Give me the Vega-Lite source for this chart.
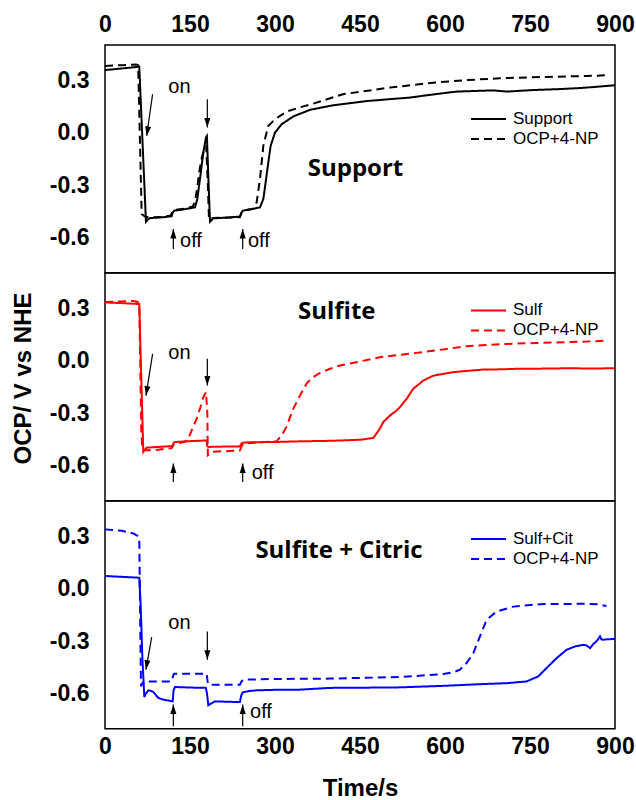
{
"$schema":"https://vega.github.io/schema/vega-lite/v6.json",
"padding":{"left":10,"top":12,"right":15,"bottom":0},
"background":"white",
"config":{"view":{"stroke":"black","strokeWidth":1.5},
"axis":{"labelFont":"Liberation Sans","labelFontWeight":"bold","labelFontSize":23,"labelColor":"black","titleFont":"Liberation Sans","titleFontWeight":"bold","titleFontSize":24,"titleColor":"black","tickColor":"black","tickWidth":1.3,"domain":false,"grid":false,"tickSize":0,"labelFlush":false,"labelOverlap":false},
"legend":{"labelFont":"Liberation Sans","labelFontSize":17,"labelColor":"black"}},
"datasets":{
"d1":[{"t":0,"v":0.357,"s":"Support"},{"t":30,"v":0.366,"s":"Support"},{"t":60.5,"v":0.376,"s":"Support"},{"t":72.3,"v":-0.51,"s":"Support"},{"t":76,"v":-0.495,"s":"Support"},{"t":80,"v":-0.488,"s":"Support"},{"t":100,"v":-0.484,"s":"Support"},{"t":117.5,"v":-0.478,"s":"Support"},{"t":119.5,"v":-0.458,"s":"Support"},{"t":122,"v":-0.446,"s":"Support"},{"t":140,"v":-0.438,"s":"Support"},{"t":158.8,"v":-0.427,"s":"Support"},{"t":162.9,"v":-0.379,"s":"Support"},{"t":167.6,"v":-0.265,"s":"Support"},{"t":173.5,"v":-0.113,"s":"Support"},{"t":178.2,"v":-0.028,"s":"Support"},{"t":179.8,"v":-0.02,"s":"Support"},{"t":185.3,"v":-0.509,"s":"Support"},{"t":191,"v":-0.49,"s":"Support"},{"t":215,"v":-0.485,"s":"Support"},{"t":238.2,"v":-0.48,"s":"Support"},{"t":240.5,"v":-0.46,"s":"Support"},{"t":243,"v":-0.446,"s":"Support"},{"t":260,"v":-0.436,"s":"Support"},{"t":273.5,"v":-0.427,"s":"Support"},{"t":279.4,"v":-0.379,"s":"Support"},{"t":283.5,"v":-0.284,"s":"Support"},{"t":288.2,"v":-0.17,"s":"Support"},{"t":292.3,"v":-0.076,"s":"Support"},{"t":300,"v":0.0,"s":"Support"},{"t":311.8,"v":0.048,"s":"Support"},{"t":332.3,"v":0.092,"s":"Support"},{"t":361.7,"v":0.13,"s":"Support"},{"t":403,"v":0.156,"s":"Support"},{"t":461.8,"v":0.18,"s":"Support"},{"t":500,"v":0.19,"s":"Support"},{"t":538,"v":0.2,"s":"Support"},{"t":580,"v":0.218,"s":"Support"},{"t":620.6,"v":0.234,"s":"Support"},{"t":685,"v":0.241,"s":"Support"},{"t":708.8,"v":0.234,"s":"Support"},{"t":756,"v":0.243,"s":"Support"},{"t":800,"v":0.248,"s":"Support"},{"t":838,"v":0.254,"s":"Support"},{"t":870,"v":0.262,"s":"Support"},{"t":900,"v":0.27,"s":"Support"},
{"t":0,"v":0.38,"s":"OCP+4-NP"},{"t":30,"v":0.385,"s":"OCP+4-NP"},{"t":55,"v":0.389,"s":"OCP+4-NP"},{"t":58.5,"v":0.385,"s":"OCP+4-NP"},{"t":64.7,"v":-0.465,"s":"OCP+4-NP"},{"t":70,"v":-0.478,"s":"OCP+4-NP"},{"t":78,"v":-0.485,"s":"OCP+4-NP"},{"t":100,"v":-0.482,"s":"OCP+4-NP"},{"t":116,"v":-0.474,"s":"OCP+4-NP"},{"t":119,"v":-0.452,"s":"OCP+4-NP"},{"t":122,"v":-0.442,"s":"OCP+4-NP"},{"t":140,"v":-0.434,"s":"OCP+4-NP"},{"t":155,"v":-0.422,"s":"OCP+4-NP"},{"t":159,"v":-0.39,"s":"OCP+4-NP"},{"t":163,"v":-0.31,"s":"OCP+4-NP"},{"t":167,"v":-0.21,"s":"OCP+4-NP"},{"t":171,"v":-0.14,"s":"OCP+4-NP"},{"t":175,"v":-0.1,"s":"OCP+4-NP"},{"t":178.5,"v":-0.075,"s":"OCP+4-NP"},{"t":181.5,"v":-0.3,"s":"OCP+4-NP"},{"t":183.5,"v":-0.495,"s":"OCP+4-NP"},{"t":190,"v":-0.488,"s":"OCP+4-NP"},{"t":238,"v":-0.483,"s":"OCP+4-NP"},{"t":241,"v":-0.455,"s":"OCP+4-NP"},{"t":244,"v":-0.446,"s":"OCP+4-NP"},{"t":262,"v":-0.435,"s":"OCP+4-NP"},{"t":267.6,"v":-0.398,"s":"OCP+4-NP"},{"t":273.5,"v":-0.265,"s":"OCP+4-NP"},{"t":279.4,"v":-0.076,"s":"OCP+4-NP"},{"t":288,"v":0.038,"s":"OCP+4-NP"},{"t":300,"v":0.076,"s":"OCP+4-NP"},{"t":320.6,"v":0.12,"s":"OCP+4-NP"},{"t":345,"v":0.145,"s":"OCP+4-NP"},{"t":362,"v":0.16,"s":"OCP+4-NP"},{"t":420,"v":0.219,"s":"OCP+4-NP"},{"t":503,"v":0.257,"s":"OCP+4-NP"},{"t":579,"v":0.285,"s":"OCP+4-NP"},{"t":640,"v":0.3,"s":"OCP+4-NP"},{"t":697,"v":0.31,"s":"OCP+4-NP"},{"t":780,"v":0.318,"s":"OCP+4-NP"},{"t":850,"v":0.323,"s":"OCP+4-NP"},{"t":885,"v":0.327,"s":"OCP+4-NP"}],
"d2":[{"t":0,"v":0.332,"s":"Sulf"},{"t":30,"v":0.328,"s":"Sulf"},{"t":60.5,"v":0.323,"s":"Sulf"},{"t":67.6,"v":-0.522,"s":"Sulf"},{"t":73.5,"v":-0.497,"s":"Sulf"},{"t":100,"v":-0.492,"s":"Sulf"},{"t":119.4,"v":-0.488,"s":"Sulf"},{"t":121,"v":-0.47,"s":"Sulf"},{"t":123.5,"v":-0.465,"s":"Sulf"},{"t":150,"v":-0.46,"s":"Sulf"},{"t":179.4,"v":-0.456,"s":"Sulf"},{"t":180.6,"v":-0.49,"s":"Sulf"},{"t":183,"v":-0.493,"s":"Sulf"},{"t":210,"v":-0.491,"s":"Sulf"},{"t":238,"v":-0.49,"s":"Sulf"},{"t":240.5,"v":-0.475,"s":"Sulf"},{"t":243,"v":-0.469,"s":"Sulf"},{"t":260,"v":-0.466,"s":"Sulf"},{"t":300,"v":-0.465,"s":"Sulf"},{"t":344,"v":-0.461,"s":"Sulf"},{"t":400,"v":-0.458,"s":"Sulf"},{"t":450,"v":-0.452,"s":"Sulf"},{"t":473.5,"v":-0.442,"s":"Sulf"},{"t":485,"v":-0.389,"s":"Sulf"},{"t":491,"v":-0.351,"s":"Sulf"},{"t":503,"v":-0.313,"s":"Sulf"},{"t":514.7,"v":-0.285,"s":"Sulf"},{"t":520.6,"v":-0.265,"s":"Sulf"},{"t":532.4,"v":-0.218,"s":"Sulf"},{"t":544,"v":-0.161,"s":"Sulf"},{"t":561.7,"v":-0.114,"s":"Sulf"},{"t":579.4,"v":-0.086,"s":"Sulf"},{"t":614.6,"v":-0.066,"s":"Sulf"},{"t":667.6,"v":-0.051,"s":"Sulf"},{"t":700,"v":-0.05,"s":"Sulf"},{"t":726.5,"v":-0.047,"s":"Sulf"},{"t":770,"v":-0.046,"s":"Sulf"},{"t":814.7,"v":-0.044,"s":"Sulf"},{"t":860,"v":-0.045,"s":"Sulf"},{"t":900,"v":-0.044,"s":"Sulf"},
{"t":0,"v":0.335,"s":"OCP+4-NP"},{"t":30,"v":0.338,"s":"OCP+4-NP"},{"t":50,"v":0.34,"s":"OCP+4-NP"},{"t":58,"v":0.335,"s":"OCP+4-NP"},{"t":60.5,"v":0.32,"s":"OCP+4-NP"},{"t":64,"v":-0.4,"s":"OCP+4-NP"},{"t":66,"v":-0.512,"s":"OCP+4-NP"},{"t":85,"v":-0.512,"s":"OCP+4-NP"},{"t":117.6,"v":-0.5,"s":"OCP+4-NP"},{"t":121,"v":-0.48,"s":"OCP+4-NP"},{"t":125,"v":-0.475,"s":"OCP+4-NP"},{"t":140,"v":-0.465,"s":"OCP+4-NP"},{"t":147,"v":-0.446,"s":"OCP+4-NP"},{"t":154,"v":-0.39,"s":"OCP+4-NP"},{"t":161.8,"v":-0.332,"s":"OCP+4-NP"},{"t":168,"v":-0.27,"s":"OCP+4-NP"},{"t":173.5,"v":-0.209,"s":"OCP+4-NP"},{"t":178.2,"v":-0.18,"s":"OCP+4-NP"},{"t":180.6,"v":-0.3,"s":"OCP+4-NP"},{"t":181.5,"v":-0.541,"s":"OCP+4-NP"},{"t":191,"v":-0.52,"s":"OCP+4-NP"},{"t":238,"v":-0.514,"s":"OCP+4-NP"},{"t":241,"v":-0.49,"s":"OCP+4-NP"},{"t":244,"v":-0.474,"s":"OCP+4-NP"},{"t":270,"v":-0.468,"s":"OCP+4-NP"},{"t":303,"v":-0.46,"s":"OCP+4-NP"},{"t":311.8,"v":-0.427,"s":"OCP+4-NP"},{"t":320,"v":-0.38,"s":"OCP+4-NP"},{"t":332.3,"v":-0.275,"s":"OCP+4-NP"},{"t":344,"v":-0.2,"s":"OCP+4-NP"},{"t":356,"v":-0.13,"s":"OCP+4-NP"},{"t":367,"v":-0.095,"s":"OCP+4-NP"},{"t":379.4,"v":-0.071,"s":"OCP+4-NP"},{"t":397,"v":-0.047,"s":"OCP+4-NP"},{"t":414.7,"v":-0.028,"s":"OCP+4-NP"},{"t":450,"v":-0.005,"s":"OCP+4-NP"},{"t":485,"v":0.019,"s":"OCP+4-NP"},{"t":550,"v":0.044,"s":"OCP+4-NP"},{"t":600,"v":0.065,"s":"OCP+4-NP"},{"t":638,"v":0.082,"s":"OCP+4-NP"},{"t":709,"v":0.095,"s":"OCP+4-NP"},{"t":760,"v":0.1,"s":"OCP+4-NP"},{"t":814.7,"v":0.105,"s":"OCP+4-NP"},{"t":860,"v":0.11,"s":"OCP+4-NP"},{"t":885,"v":0.114,"s":"OCP+4-NP"}],
"d3":[{"t":0,"v":0.072,"s":"Sulf+Cit"},{"t":30,"v":0.067,"s":"Sulf+Cit"},{"t":60.5,"v":0.062,"s":"Sulf+Cit"},{"t":63,"v":-0.1,"s":"Sulf+Cit"},{"t":66,"v":-0.4,"s":"Sulf+Cit"},{"t":69.4,"v":-0.619,"s":"Sulf+Cit"},{"t":72,"v":-0.6,"s":"Sulf+Cit"},{"t":76.5,"v":-0.581,"s":"Sulf+Cit"},{"t":80,"v":-0.583,"s":"Sulf+Cit"},{"t":85,"v":-0.59,"s":"Sulf+Cit"},{"t":94,"v":-0.624,"s":"Sulf+Cit"},{"t":103,"v":-0.634,"s":"Sulf+Cit"},{"t":119.4,"v":-0.644,"s":"Sulf+Cit"},{"t":121,"v":-0.58,"s":"Sulf+Cit"},{"t":123.5,"v":-0.562,"s":"Sulf+Cit"},{"t":150,"v":-0.565,"s":"Sulf+Cit"},{"t":178,"v":-0.567,"s":"Sulf+Cit"},{"t":180,"v":-0.6,"s":"Sulf+Cit"},{"t":182.4,"v":-0.666,"s":"Sulf+Cit"},{"t":188,"v":-0.655,"s":"Sulf+Cit"},{"t":194,"v":-0.644,"s":"Sulf+Cit"},{"t":238,"v":-0.648,"s":"Sulf+Cit"},{"t":240.5,"v":-0.61,"s":"Sulf+Cit"},{"t":243,"v":-0.592,"s":"Sulf+Cit"},{"t":255,"v":-0.585,"s":"Sulf+Cit"},{"t":267.6,"v":-0.581,"s":"Sulf+Cit"},{"t":300,"v":-0.578,"s":"Sulf+Cit"},{"t":344,"v":-0.577,"s":"Sulf+Cit"},{"t":397,"v":-0.567,"s":"Sulf+Cit"},{"t":450,"v":-0.566,"s":"Sulf+Cit"},{"t":520.6,"v":-0.564,"s":"Sulf+Cit"},{"t":600,"v":-0.555,"s":"Sulf+Cit"},{"t":667.6,"v":-0.545,"s":"Sulf+Cit"},{"t":710,"v":-0.54,"s":"Sulf+Cit"},{"t":744,"v":-0.53,"s":"Sulf+Cit"},{"t":764.7,"v":-0.501,"s":"Sulf+Cit"},{"t":779.4,"v":-0.453,"s":"Sulf+Cit"},{"t":797,"v":-0.397,"s":"Sulf+Cit"},{"t":814.7,"v":-0.349,"s":"Sulf+Cit"},{"t":830,"v":-0.33,"s":"Sulf+Cit"},{"t":844,"v":-0.321,"s":"Sulf+Cit"},{"t":850,"v":-0.325,"s":"Sulf+Cit"},{"t":855.9,"v":-0.34,"s":"Sulf+Cit"},{"t":858.5,"v":-0.33,"s":"Sulf+Cit"},{"t":861.7,"v":-0.316,"s":"Sulf+Cit"},{"t":866,"v":-0.305,"s":"Sulf+Cit"},{"t":870,"v":-0.29,"s":"Sulf+Cit"},{"t":873.5,"v":-0.273,"s":"Sulf+Cit"},{"t":876,"v":-0.29,"s":"Sulf+Cit"},{"t":879.4,"v":-0.292,"s":"Sulf+Cit"},{"t":885,"v":-0.29,"s":"Sulf+Cit"},{"t":900,"v":-0.287,"s":"Sulf+Cit"},
{"t":0,"v":0.338,"s":"OCP+4-NP"},{"t":30,"v":0.33,"s":"OCP+4-NP"},{"t":50,"v":0.315,"s":"OCP+4-NP"},{"t":58,"v":0.3,"s":"OCP+4-NP"},{"t":60.5,"v":0.287,"s":"OCP+4-NP"},{"t":61.5,"v":0.0,"s":"OCP+4-NP"},{"t":62.5,"v":-0.3,"s":"OCP+4-NP"},{"t":63.5,"v":-0.558,"s":"OCP+4-NP"},{"t":66,"v":-0.54,"s":"OCP+4-NP"},{"t":70.6,"v":-0.53,"s":"OCP+4-NP"},{"t":117.6,"v":-0.53,"s":"OCP+4-NP"},{"t":120,"v":-0.5,"s":"OCP+4-NP"},{"t":121.8,"v":-0.486,"s":"OCP+4-NP"},{"t":179.4,"v":-0.486,"s":"OCP+4-NP"},{"t":181,"v":-0.53,"s":"OCP+4-NP"},{"t":182.4,"v":-0.549,"s":"OCP+4-NP"},{"t":238,"v":-0.549,"s":"OCP+4-NP"},{"t":241,"v":-0.53,"s":"OCP+4-NP"},{"t":244,"v":-0.52,"s":"OCP+4-NP"},{"t":300,"v":-0.516,"s":"OCP+4-NP"},{"t":397,"v":-0.514,"s":"OCP+4-NP"},{"t":450,"v":-0.51,"s":"OCP+4-NP"},{"t":520.6,"v":-0.505,"s":"OCP+4-NP"},{"t":597,"v":-0.488,"s":"OCP+4-NP"},{"t":615,"v":-0.478,"s":"OCP+4-NP"},{"t":626.5,"v":-0.463,"s":"OCP+4-NP"},{"t":638,"v":-0.425,"s":"OCP+4-NP"},{"t":650,"v":-0.368,"s":"OCP+4-NP"},{"t":661.7,"v":-0.273,"s":"OCP+4-NP"},{"t":673.5,"v":-0.178,"s":"OCP+4-NP"},{"t":691,"v":-0.131,"s":"OCP+4-NP"},{"t":720.6,"v":-0.103,"s":"OCP+4-NP"},{"t":767.6,"v":-0.089,"s":"OCP+4-NP"},{"t":844,"v":-0.087,"s":"OCP+4-NP"},{"t":870,"v":-0.09,"s":"OCP+4-NP"},{"t":885,"v":-0.099,"s":"OCP+4-NP"}],
"n1":[{"x":111.8,"y":0.228,"label":"on"},{"x":132.4,"y":-0.654,"label":"off"},{"x":252.3,"y":-0.654,"label":"off"}],
"n2":[{"x":111.8,"y":0.0096,"label":"on"},{"x":258.8,"y":-0.678,"label":"off"}],
"n3":[{"x":111.8,"y":-0.231,"label":"on"},{"x":255.9,"y":-0.738,"label":"off"}],
"r1":[{"x":84,"y":0.219,"x2":73.5,"y2":-0.019,"dir":"slant"},{"x":180.6,"y":0.19,"x2":180.6,"y2":0.029,"dir":"down"},{"x":120.6,"y":-0.664,"x2":120.6,"y2":-0.55,"dir":"up"},{"x":243,"y":-0.664,"x2":243,"y2":-0.55,"dir":"up"}],
"r2":[{"x":84,"y":0.038,"x2":72.3,"y2":-0.2,"dir":"slant"},{"x":180.6,"y":0.01,"x2":180.6,"y2":-0.142,"dir":"down"},{"x":120.6,"y":-0.693,"x2":120.6,"y2":-0.588,"dir":"up"},{"x":243,"y":-0.693,"x2":243,"y2":-0.588,"dir":"up"}],
"r3":[{"x":82.4,"y":-0.277,"x2":72.3,"y2":-0.463,"dir":"slant"},{"x":180.6,"y":-0.245,"x2":180.6,"y2":-0.406,"dir":"down"},{"x":120.6,"y":-0.786,"x2":120.6,"y2":-0.662,"dir":"up"},{"x":243,"y":-0.786,"x2":243,"y2":-0.662,"dir":"up"}],
"p1":[{"x":442,"y":-0.248,"label":"Support"}],
"p2":[{"x":409,"y":0.237,"label":"Sulfite"}],
"p3":[{"x":413,"y":0.173,"label":"Sulfite + Citric"}]
},
"vconcat":[
{"width":510,"height":227.7,
"resolve":{"axis":{"x":"independent","y":"independent"}},
"layer":[
{"data":{"name":"d1"},"mark":{"type":"line","strokeWidth":2},
"encoding":{
"x":{"field":"t","type":"quantitative","scale":{"domain":[0,900],"nice":false},"axis":{"orient":"bottom","values":[0,75,150,225,300,375,450,525,600,675,750,825,900],"labels":false,"title":null,"encode":{"ticks":{"y2":{"condition":{"test":"datum.value % 150 === 0","value":-7},"value":-4}}}}},
"y":{"field":"v","type":"quantitative","scale":{"domain":[-0.8,0.5],"nice":false,"zero":false},"axis":{"orient":"left","values":[-0.75,-0.6,-0.45,-0.3,-0.15,0,0.15,0.3,0.45],"labelExpr":"round(datum.value*100) % 30 === 0 ? replace(format(datum.value, '.1f'), '\u2212', '-') : ''","labelPadding":16,"title":null,"encode":{"ticks":{"x2":{"condition":{"test":"round(datum.value*100) % 30 === 0","value":-8},"value":-4}}}}},
"color":{"field":"s","type":"nominal","scale":{"domain":["Support","OCP+4-NP"],"range":["#000000","#000000"]},"legend":{"title":null,"orient":"none","legendX":365,"legendY":64,"symbolType":"stroke","symbolSize":1225,"symbolStrokeWidth":2,"labelOffset":6,"rowPadding":0,"clipHeight":20,"padding":0}},
"strokeDash":{"field":"s","type":"nominal","scale":{"domain":["Support","OCP+4-NP"],"range":[[1,0],[8,5]]},"legend":{"title":null,"orient":"none","legendX":365,"legendY":64,"symbolType":"stroke","symbolSize":1225,"symbolStrokeWidth":2,"labelOffset":6,"rowPadding":0,"clipHeight":20,"padding":0}}}},
{"data":{"name":"n1"},"mark":{"type":"text","font":"Liberation Sans","fontSize":20,"align":"left","baseline":"alphabetic","color":"black"},
"encoding":{
"x":{"field":"x","type":"quantitative","scale":{"domain":[0,900],"nice":false},"axis":{"orient":"top","values":[0,75,150,225,300,375,450,525,600,675,750,825,900],"labelExpr":"datum.value % 150 === 0 ? datum.label : ''","labelPadding":9,"title":null,"encode":{"ticks":{"y2":{"condition":{"test":"datum.value % 150 === 0","value":7},"value":5}}}}},
"y":{"field":"y","type":"quantitative","scale":{"domain":[-0.8,0.5],"nice":false,"zero":false},"axis":{"orient":"right","values":[-0.75,-0.6,-0.45,-0.3,-0.15,0,0.15,0.3,0.45],"labels":false,"title":null,"encode":{"ticks":{"x2":{"condition":{"test":"round(datum.value*100) % 30 === 0","value":5},"value":3}}}}},
"text":{"field":"label"}}},
{"data":{"name":"r1"},"mark":{"type":"rule","strokeWidth":1.2,"color":"black"},
"encoding":{"x":{"field":"x","type":"quantitative","axis":null},"y":{"field":"y","type":"quantitative","axis":null},"x2":{"field":"x2"},"y2":{"field":"y2"}}},
{"data":{"name":"r1"},"transform":[{"filter":"datum.dir === 'down'"}],"mark":{"type":"point","shape":"M0,0L-0.32,-1L0.32,-1Z","filled":true,"size":360,"color":"black","opacity":1},
"encoding":{"x":{"field":"x2","type":"quantitative","axis":null},"y":{"field":"y2","type":"quantitative","axis":null}}},
{"data":{"name":"r1"},"transform":[{"filter":"datum.dir === 'up'"}],"mark":{"type":"point","shape":"M0,0L-0.32,-1L0.32,-1Z","filled":true,"size":360,"angle":180,"color":"black","opacity":1},
"encoding":{"x":{"field":"x2","type":"quantitative","axis":null},"y":{"field":"y2","type":"quantitative","axis":null}}},
{"data":{"name":"r1"},"transform":[{"filter":"datum.dir === 'slant'"}],"mark":{"type":"point","shape":"M0,0L-0.32,-1L0.32,-1Z","filled":true,"size":360,"angle":9,"color":"black","opacity":1},
"encoding":{"x":{"field":"x2","type":"quantitative","axis":null},"y":{"field":"y2","type":"quantitative","axis":null}}},
{"data":{"name":"p1"},"mark":{"type":"text","font":"Open Sans","fontWeight":"bold","fontSize":24,"align":"center","baseline":"alphabetic","color":"black"},
"encoding":{"x":{"field":"x","type":"quantitative","axis":null},"y":{"field":"y","type":"quantitative","axis":null},"text":{"field":"label"}}}
]},
{"width":510,"height":227.7,
"resolve":{"axis":{"x":"independent","y":"independent"}},
"layer":[
{"data":{"name":"d2"},"mark":{"type":"line","strokeWidth":2},
"encoding":{
"x":{"field":"t","type":"quantitative","scale":{"domain":[0,900],"nice":false},"axis":{"orient":"bottom","values":[0,75,150,225,300,375,450,525,600,675,750,825,900],"labels":false,"title":null,"encode":{"ticks":{"y2":{"condition":{"test":"datum.value % 150 === 0","value":-7},"value":-4}}}}},
"y":{"field":"v","type":"quantitative","scale":{"domain":[-0.8,0.5],"nice":false,"zero":false},"axis":{"orient":"left","values":[-0.75,-0.6,-0.45,-0.3,-0.15,0,0.15,0.3,0.45],"labelExpr":"round(datum.value*100) % 30 === 0 ? replace(format(datum.value, '.1f'), '\u2212', '-') : ''","labelPadding":16,"title":"OCP/ V vs NHE","titlePadding":14,"titleY":105,"encode":{"ticks":{"x2":{"condition":{"test":"round(datum.value*100) % 30 === 0","value":-8},"value":-4}}}}},
"color":{"field":"s","type":"nominal","scale":{"domain":["Sulf","OCP+4-NP"],"range":["#ff0000","#ff0000"]},"legend":{"title":null,"orient":"none","legendX":365,"legendY":27.4,"symbolType":"stroke","symbolSize":1225,"symbolStrokeWidth":2,"labelOffset":6,"rowPadding":0,"clipHeight":20,"padding":0}},
"strokeDash":{"field":"s","type":"nominal","scale":{"domain":["Sulf","OCP+4-NP"],"range":[[1,0],[8,5]]},"legend":{"title":null,"orient":"none","legendX":365,"legendY":27.4,"symbolType":"stroke","symbolSize":1225,"symbolStrokeWidth":2,"labelOffset":6,"rowPadding":0,"clipHeight":20,"padding":0}}}},
{"data":{"name":"n2"},"mark":{"type":"text","font":"Liberation Sans","fontSize":20,"align":"left","baseline":"alphabetic","color":"black"},
"encoding":{
"x":{"field":"x","type":"quantitative","scale":{"domain":[0,900],"nice":false},"axis":{"orient":"top","values":[0,75,150,225,300,375,450,525,600,675,750,825,900],"labels":false,"title":null,"encode":{"ticks":{"y2":{"condition":{"test":"datum.value % 150 === 0","value":7},"value":5}}}}},
"y":{"field":"y","type":"quantitative","scale":{"domain":[-0.8,0.5],"nice":false,"zero":false},"axis":{"orient":"right","values":[-0.75,-0.6,-0.45,-0.3,-0.15,0,0.15,0.3,0.45],"labels":false,"title":null,"encode":{"ticks":{"x2":{"condition":{"test":"round(datum.value*100) % 30 === 0","value":5},"value":3}}}}},
"text":{"field":"label"}}},
{"data":{"name":"r2"},"mark":{"type":"rule","strokeWidth":1.2,"color":"black"},
"encoding":{"x":{"field":"x","type":"quantitative","axis":null},"y":{"field":"y","type":"quantitative","axis":null},"x2":{"field":"x2"},"y2":{"field":"y2"}}},
{"data":{"name":"r2"},"transform":[{"filter":"datum.dir === 'down'"}],"mark":{"type":"point","shape":"M0,0L-0.32,-1L0.32,-1Z","filled":true,"size":360,"color":"black","opacity":1},
"encoding":{"x":{"field":"x2","type":"quantitative","axis":null},"y":{"field":"y2","type":"quantitative","axis":null}}},
{"data":{"name":"r2"},"transform":[{"filter":"datum.dir === 'up'"}],"mark":{"type":"point","shape":"M0,0L-0.32,-1L0.32,-1Z","filled":true,"size":360,"angle":180,"color":"black","opacity":1},
"encoding":{"x":{"field":"x2","type":"quantitative","axis":null},"y":{"field":"y2","type":"quantitative","axis":null}}},
{"data":{"name":"r2"},"transform":[{"filter":"datum.dir === 'slant'"}],"mark":{"type":"point","shape":"M0,0L-0.32,-1L0.32,-1Z","filled":true,"size":360,"angle":9,"color":"black","opacity":1},
"encoding":{"x":{"field":"x2","type":"quantitative","axis":null},"y":{"field":"y2","type":"quantitative","axis":null}}},
{"data":{"name":"p2"},"mark":{"type":"text","font":"Open Sans","fontWeight":"bold","fontSize":24,"align":"center","baseline":"alphabetic","color":"black"},
"encoding":{"x":{"field":"x","type":"quantitative","axis":null},"y":{"field":"y","type":"quantitative","axis":null},"text":{"field":"label"}}}
]},
{"width":510,"height":227.7,
"resolve":{"axis":{"x":"independent","y":"independent"}},
"layer":[
{"data":{"name":"d3"},"mark":{"type":"line","strokeWidth":2},
"encoding":{
"x":{"field":"t","type":"quantitative","scale":{"domain":[0,900],"nice":false},"axis":{"orient":"bottom","values":[0,75,150,225,300,375,450,525,600,675,750,825,900],"labelExpr":"datum.value % 150 === 0 ? datum.label : ''","labelPadding":7,"title":"Time/s","titlePadding":18,"encode":{"ticks":{"y2":{"condition":{"test":"datum.value % 150 === 0","value":-9},"value":-4}}}}},
"y":{"field":"v","type":"quantitative","scale":{"domain":[-0.8,0.5],"nice":false,"zero":false},"axis":{"orient":"left","values":[-0.75,-0.6,-0.45,-0.3,-0.15,0,0.15,0.3,0.45],"labelExpr":"round(datum.value*100) % 30 === 0 ? replace(format(datum.value, '.1f'), '\u2212', '-') : ''","labelPadding":16,"title":null,"encode":{"ticks":{"x2":{"condition":{"test":"round(datum.value*100) % 30 === 0","value":-8},"value":-4}}}}},
"color":{"field":"s","type":"nominal","scale":{"domain":["Sulf+Cit","OCP+4-NP"],"range":["#0000ff","#0000ff"]},"legend":{"title":null,"orient":"none","legendX":365,"legendY":28,"symbolType":"stroke","symbolSize":1225,"symbolStrokeWidth":2,"labelOffset":6,"rowPadding":0,"clipHeight":20,"padding":0}},
"strokeDash":{"field":"s","type":"nominal","scale":{"domain":["Sulf+Cit","OCP+4-NP"],"range":[[1,0],[8,5]]},"legend":{"title":null,"orient":"none","legendX":365,"legendY":28,"symbolType":"stroke","symbolSize":1225,"symbolStrokeWidth":2,"labelOffset":6,"rowPadding":0,"clipHeight":20,"padding":0}}}},
{"data":{"name":"n3"},"mark":{"type":"text","font":"Liberation Sans","fontSize":20,"align":"left","baseline":"alphabetic","color":"black"},
"encoding":{
"x":{"field":"x","type":"quantitative","scale":{"domain":[0,900],"nice":false},"axis":{"orient":"top","values":[0,75,150,225,300,375,450,525,600,675,750,825,900],"labels":false,"title":null,"encode":{"ticks":{"y2":{"condition":{"test":"datum.value % 150 === 0","value":7},"value":5}}}}},
"y":{"field":"y","type":"quantitative","scale":{"domain":[-0.8,0.5],"nice":false,"zero":false},"axis":{"orient":"right","values":[-0.75,-0.6,-0.45,-0.3,-0.15,0,0.15,0.3,0.45],"labels":false,"title":null,"encode":{"ticks":{"x2":{"condition":{"test":"round(datum.value*100) % 30 === 0","value":5},"value":3}}}}},
"text":{"field":"label"}}},
{"data":{"name":"r3"},"mark":{"type":"rule","strokeWidth":1.2,"color":"black"},
"encoding":{"x":{"field":"x","type":"quantitative","axis":null},"y":{"field":"y","type":"quantitative","axis":null},"x2":{"field":"x2"},"y2":{"field":"y2"}}},
{"data":{"name":"r3"},"transform":[{"filter":"datum.dir === 'down'"}],"mark":{"type":"point","shape":"M0,0L-0.32,-1L0.32,-1Z","filled":true,"size":360,"color":"black","opacity":1},
"encoding":{"x":{"field":"x2","type":"quantitative","axis":null},"y":{"field":"y2","type":"quantitative","axis":null}}},
{"data":{"name":"r3"},"transform":[{"filter":"datum.dir === 'up'"}],"mark":{"type":"point","shape":"M0,0L-0.32,-1L0.32,-1Z","filled":true,"size":360,"angle":180,"color":"black","opacity":1},
"encoding":{"x":{"field":"x2","type":"quantitative","axis":null},"y":{"field":"y2","type":"quantitative","axis":null}}},
{"data":{"name":"r3"},"transform":[{"filter":"datum.dir === 'slant'"}],"mark":{"type":"point","shape":"M0,0L-0.32,-1L0.32,-1Z","filled":true,"size":360,"angle":9,"color":"black","opacity":1},
"encoding":{"x":{"field":"x2","type":"quantitative","axis":null},"y":{"field":"y2","type":"quantitative","axis":null}}},
{"data":{"name":"p3"},"mark":{"type":"text","font":"Open Sans","fontWeight":"bold","fontSize":24,"align":"center","baseline":"alphabetic","color":"black"},
"encoding":{"x":{"field":"x","type":"quantitative","axis":null},"y":{"field":"y","type":"quantitative","axis":null},"text":{"field":"label"}}}
]}
],
"spacing":0,
"bounds":"flush",
"resolve":{"scale":{"color":"independent","strokeDash":"independent"}}
}
